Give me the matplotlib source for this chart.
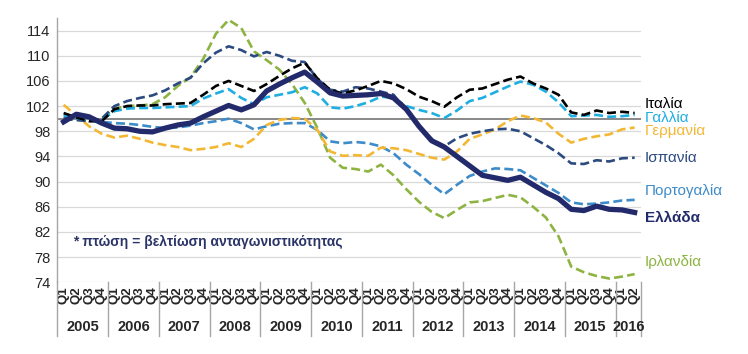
import numpy as np
import matplotlib
matplotlib.use('Agg')
import matplotlib.pyplot as plt
from matplotlib.transforms import blended_transform_factory

plt.rcParams['font.family'] = ['Liberation Sans', 'DejaVu Sans']

# Δεδομένα (τριμηνιαία, 2005Q1 - 2016Q2)
years = ['2005', '2006', '2007', '2008', '2009', '2010',
         '2011', '2012', '2013', '2014', '2015', '2016']
quarters = ['Q1', 'Q2', 'Q3', 'Q4'] * 11 + ['Q1', 'Q2']

italia = [100.9, 100.2, 99.6, 99.6, 101.5, 102.0, 102.1, 102.1, 102.3, 102.4,
          102.5, 103.8, 105.2, 106.0, 105.2, 104.4, 105.5, 106.8, 108.0, 108.9,
          106.4, 104.6, 104.0, 104.5, 105.2, 106.0, 105.6, 104.7, 103.5, 102.8,
          101.9, 103.4, 104.6, 104.8, 105.5, 106.2, 106.7, 105.6, 104.8, 103.8,
          101.0, 100.6, 101.3, 100.9, 101.1, 100.9]
gallia = [100.6, 100.1, 99.7, 99.8, 101.2, 101.6, 101.7, 101.7, 101.8, 101.9,
          102.0, 103.2, 104.0, 104.7, 103.3, 102.3, 103.4, 103.8, 104.2, 105.0,
          104.0, 101.8, 101.6, 102.0, 102.6, 103.5, 103.3, 102.0, 101.4, 100.9,
          100.1, 101.3, 102.8, 103.3, 104.2, 105.1, 105.9, 105.4, 104.3, 102.6,
          100.4, 100.5, 100.6, 100.3, 100.4, 100.6]
germania = [102.2, 100.5, 98.8, 97.6, 97.0, 97.3, 96.8, 96.2, 95.8, 95.5,
            95.0, 95.2, 95.5, 96.1, 95.5, 96.8, 99.0, 99.8, 100.1, 100.0,
            98.2, 94.8, 94.1, 94.2, 94.1, 95.4, 95.3, 95.0, 94.4, 93.8,
            93.5, 94.8, 96.8, 97.5, 98.3, 99.6, 100.5, 100.1, 99.4, 97.6,
            96.2, 96.8, 97.2, 97.5, 98.3, 98.6]
ispania = [100.0, 99.8, 99.6, 100.0, 102.0, 102.8, 103.3, 103.7, 104.5, 105.6,
           106.5, 108.8, 110.5, 111.5, 110.9, 109.9, 110.6, 110.0, 109.2, 109.0,
           106.3, 104.6, 104.3, 105.0, 104.8, 104.3, 103.8, 101.3, 98.8, 96.8,
           95.6, 96.9, 97.6, 98.0, 98.3, 98.4, 98.0, 96.9, 95.8, 94.5,
           92.9, 92.8, 93.4, 93.2, 93.7, 93.8]
portogalia = [100.3, 100.0, 99.7, 99.5, 99.3, 99.2, 99.0, 98.7, 98.5, 98.6,
              98.9, 99.3, 99.6, 100.0, 99.3, 98.3, 98.8, 99.2, 99.3, 99.3,
              98.2, 96.4, 96.1, 96.3, 96.1, 95.6, 94.5, 92.7, 91.2, 89.5,
              88.0, 89.5, 90.9, 91.6, 92.1, 92.0, 91.8, 90.6, 89.4, 88.2,
              86.7, 86.4, 86.5, 86.7, 87.0, 87.1]
ellada = [99.5, 100.7, 100.3, 99.3, 98.5, 98.4, 98.0, 97.9, 98.5, 99.0,
          99.3, 100.3, 101.2, 102.1, 101.4, 102.2, 104.4, 105.5, 106.5, 107.4,
          105.8, 104.1, 103.6, 103.7, 103.8, 104.0, 103.3, 101.5, 98.8, 96.5,
          95.5, 94.0, 92.5, 91.0, 90.6, 90.2, 90.7, 89.5, 88.3, 87.3,
          85.6, 85.4, 86.1, 85.6, 85.5, 85.1]
irlandia = [100.0, 99.8, 99.6, 100.0, 101.6, 102.0, 102.1, 102.3, 103.4, 105.2,
            106.6, 109.5, 113.5, 115.7, 114.4, 110.7, 109.3, 107.8, 105.5, 102.5,
            98.5, 93.8, 92.2, 92.0, 91.6, 92.7, 91.0, 88.8, 86.8, 85.2,
            84.2, 85.5, 86.7, 86.9, 87.4, 87.9, 87.5, 86.0, 84.3, 81.3,
            76.5, 75.6, 75.0, 74.6, 74.9, 75.3]

# Σειρές: (δεδομένα, χρώμα, ετικέτα, y ετικέτας σε px)
series = [
    (irlandia, '#8DB441', 'Ιρλανδία', 262),
    (portogalia, '#3D8BC9', 'Πορτογαλία', 191),
    (germania, '#F2B834', 'Γερμανία', 131),
    (ispania, '#2C4A80', 'Ισπανία', 158),
    (gallia, '#1FAEE2', 'Γαλλία', 118),
    (italia, '#000000', 'Ιταλία', 104),
]

W, H = 748, 354
fig = plt.figure(figsize=(W / 100, H / 100), dpi=100)
ax_l, ax_r, ax_t, ax_b = 57.3, 641, 18, 282.3
ax = fig.add_axes([ax_l / W, 1 - ax_b / H, (ax_r - ax_l) / W, (ax_b - ax_t) / H])

x = np.arange(len(quarters))

ax.axhline(100, color='#7F7F7F', lw=1.3, zorder=2)

for vals, col, lab, ly in series:
    ax.plot(x, vals, color=col, lw=1.9, linestyle=(0, (3.4, 1.6)), zorder=3)
ax.plot(x, ellada, color='#232A6C', lw=3.8, zorder=4, solid_joinstyle='round')

ax.set_xlim(-0.5, len(quarters) - 0.5)
ax.set_ylim(74, 116)
ax.set_yticks(np.arange(74, 115, 4))
ax.grid(axis='y', color='#D9D9D9', lw=0.9)
ax.set_axisbelow(True)
for s in ['top', 'right', 'bottom']:
    ax.spines[s].set_visible(False)
ax.spines['left'].set_color('#A6A6A6')
ax.spines['left'].set_linewidth(1.0)
ax.tick_params(axis='y', length=0, pad=5, labelsize=10.5, labelcolor='#262626')

ax.set_xticks(x)
ax.set_xticklabels(quarters, rotation=90, fontsize=9.5, fontweight='bold',
                   color='#262626')
ax.tick_params(axis='x', length=0, pad=3)

# Έτη και διαχωριστικές γραμμές
trans = blended_transform_factory(ax.transData, ax.transAxes)
sep_bottom = -(336 - ax_b) / (ax_b - ax_t)
year_y = -(327 - ax_b) / (ax_b - ax_t)
for k, yr in enumerate(years):
    start = 4 * k - 0.5
    end = min(4 * k + 3.5, len(quarters) - 0.5)
    ax.text((start + end) / 2, year_y, yr, transform=trans, ha='center',
            va='center', fontsize=10.5, fontweight='bold', color='#262626')
    ax.plot([start, start], [0, sep_bottom], transform=trans, color='#A6A6A6',
            lw=1.0, clip_on=False)
ax.plot([len(quarters) - 0.5] * 2, [0, sep_bottom], transform=trans,
        color='#A6A6A6', lw=1.0, clip_on=False)

# Ετικέτες σειρών δεξιά
for vals, col, lab, ly in series:
    fig.text(645 / W, 1 - ly / H, lab, color=col, fontsize=11, ha='left',
             va='center')
fig.text(645 / W, 1 - 218 / H, 'Ελλάδα', color='#232A6C', fontsize=11,
         fontweight='bold', ha='left', va='center')

fig.text(73 / W, 1 - 242 / H, '* πτώση = βελτίωση ανταγωνιστικότητας',
         color='#2B3467', fontsize=10, fontweight='bold', ha='left', va='center')

fig.savefig('out.png', dpi=100, facecolor='white')
